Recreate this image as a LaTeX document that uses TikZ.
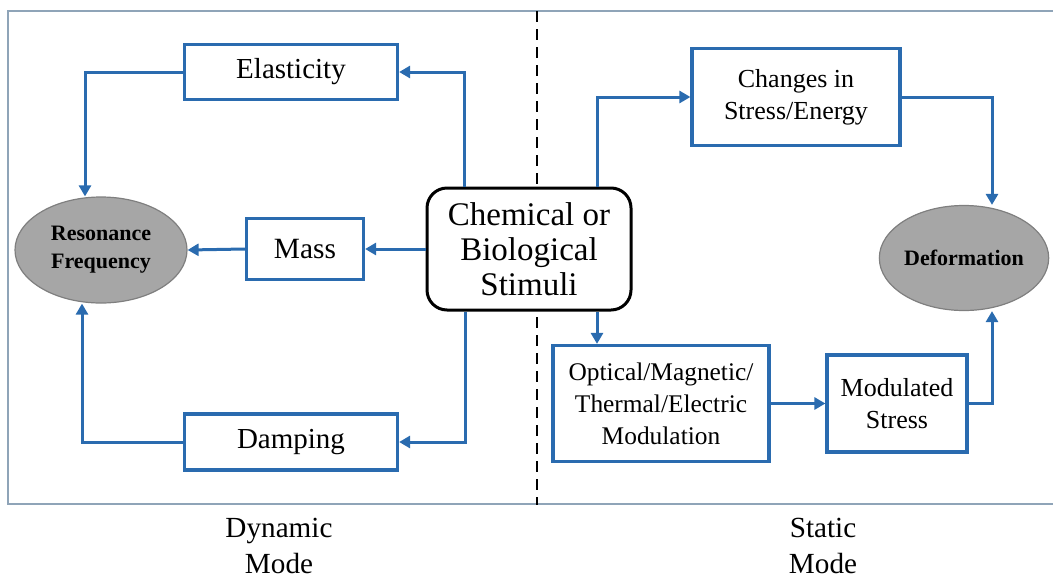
\documentclass[tikz,border=0pt]{standalone}
\usepackage{fontspec}
\setmainfont{Liberation Serif}
\usetikzlibrary{arrows.meta,shapes.geometric}
\definecolor{flow}{HTML}{2A6BAF}
\definecolor{rim}{HTML}{8FA4B8}
\definecolor{shade}{HTML}{A6A6A6}
\definecolor{edge}{HTML}{7F7F7F}
\tikzset{box/.style={draw=flow,line width=1.6pt,fill=white,align=center,inner sep=0pt},
oval/.style={ellipse,draw=edge,fill=shade,line width=.6pt,inner sep=0pt,align=center,font=\bfseries\fontsize{11}{14}\selectfont},
arr/.style={-{Triangle[length=5.5pt,width=6pt]},line width=1.5pt,flow},
lab/.style={align=center,font=\fontsize{14.6}{18}\selectfont}}

\begin{document}
\begin{tikzpicture}[x=.5pt,y=-.5pt]
\useasboundingbox (0,0) rectangle (1053,584);
\draw[rim,line width=.9pt] (1053,11) -- (8,11) -- (8,504) -- (1053,504);
\draw[line width=1pt,dash pattern=on 5.5pt off 3.5pt] (537,11) -- (537,505);
% dynamic side
\node[box,minimum width=106.5pt,minimum height=27.5pt,font=\fontsize{14.5}{17}\selectfont] (elast) at (291,72) {Elasticity};
\node[box,minimum width=58.5pt,minimum height=30.5pt,font=\fontsize{14.7}{17}\selectfont] (mass) at (305,249) {Mass};
\node[box,minimum width=106.5pt,minimum height=28pt,font=\fontsize{14.5}{17}\selectfont] (damp) at (291,442) {Damping};
\node[oval,minimum width=86pt,minimum height=53pt] (res) at (101,250) {Resonance\\Frequency};
\node[draw=black,fill=white,rounded corners=10pt,line width=1.5pt,align=center,inner sep=0pt,
  minimum width=102pt,minimum height=61pt,font=\fontsize{16.5}{17.5}\selectfont] (chem) at (529,249) {Chemical or\\Biological\\Stimuli};
% static side
\node[box,minimum width=104pt,minimum height=48.5pt,font=\fontsize{13}{16}\selectfont] (chg) at (796,97) {Changes in\\Stress/Energy};
\node[box,minimum width=108pt,minimum height=58pt,font=\fontsize{12.7}{16}\selectfont] (opt) at (661,403.5) {Optical/Magnetic/\\Thermal/Electric\\Modulation};
\node[box,minimum width=70pt,minimum height=48.5pt,font=\fontsize{13}{16}\selectfont] (mods) at (897,403.5) {Modulated\\Stress};
\node[oval,minimum width=83pt,minimum height=52.5pt] (def) at (964,258) {Deformation};
\node[lab] (dyn) at (279,546) {Dynamic\\Mode};
\node[lab] (stat) at (823,546) {Static\\Mode};
% connectors
\draw[arr] ([xshift=-32.5pt]chem.north) |- (elast.east);
\draw[arr] (elast.west) -| ([xshift=-8pt]res.north);
\draw[arr] (chem.west) -- (mass.east);
\draw[arr] (mass.west) -- (res.east);
\draw[arr] ([xshift=-32pt]chem.south) |- (damp.east);
\draw[arr] (damp.west) -| ([xshift=-9.5pt]res.south);
\draw[arr] ([xshift=34pt]chem.north) |- (chg.west);
\draw[arr] (chg.east) -| ([xshift=14pt]def.north);
\draw[arr] ([xshift=34pt]chem.south) -- ([xshift=34pt]chem.south |- opt.north);
\draw[arr] (opt.east) -- (mods.west);
\draw[arr] (mods.east) -| ([xshift=14pt]def.south);
\end{tikzpicture}
\end{document}
